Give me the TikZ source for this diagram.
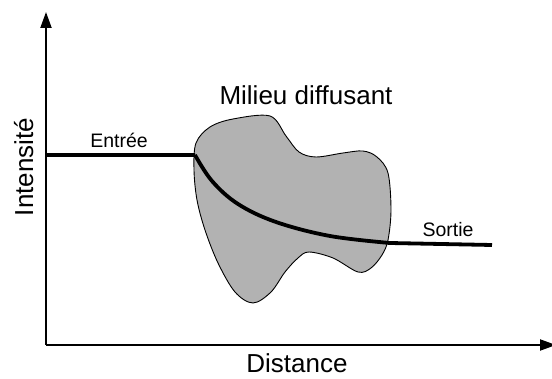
\documentclass[tikz,border=0pt]{standalone}
\usepackage{fontspec}
\setmainfont{Liberation Sans}
\usepackage{xcolor}
\usetikzlibrary{arrows.meta,positioning,calc}

\begin{document}
\begin{tikzpicture}[x=1pt,y=-1pt,
    axis/.style={line width=2pt,-{Triangle[length=16pt,width=11pt]}},
    biglabel/.style={font=\fontsize{26}{30}\selectfont,inner sep=0pt},
    smalllabel/.style={font=\fontsize{19.5}{23}\selectfont,inner sep=0pt},
    blob/.style={draw=black,line width=0.9pt,fill=black!30},
    signal/.style={line width=3.8pt,line join=round}]
    \useasboundingbox (0,0) rectangle (552,379);

    % Axes
    \coordinate (origin) at (46,345);
    \draw[axis] (origin) -- (46,12);
    \draw[axis] (origin) -- (556,345);
    \node[biglabel,anchor=base] (xlabel) at (297,373) {Distance};
    \node[biglabel,anchor=base,rotate=90] (ylabel) at (33,167) {Intensité};

    % Scattering medium
    \draw[blob] plot[smooth cycle,tension=0.55] coordinates {
        (210,127) (233,119) (270,116) (286,136) (299,152) (316,157)
        (343,153) (363,151) (377,157) (388,173) (391,210) (388,240)
        (382,255) (371,268) (358,272) (333,258) (309,252) (298,258)
        (285,272) (271,292) (253,303) (235,292) (218,263) (205,230)
        (197,200) (194,170) (196,143)};
    \node[biglabel,anchor=base] (medium) at (306,105) {Milieu diffusant};

    % Intensity through the medium
    \coordinate (enter) at (195,155);
    \coordinate (leave) at (390,243);
    \draw[signal] (46,155) -- (enter)
        plot[smooth,tension=0.6] coordinates {(enter) (212,181) (238,204)
        (276,222) (330,236) (leave)} -- (492,245);
    \node[smalllabel,anchor=base] (in) at (119,148) {Entrée};
    \node[smalllabel,anchor=base] (out) at (448,237) {Sortie};
\end{tikzpicture}
\end{document}
